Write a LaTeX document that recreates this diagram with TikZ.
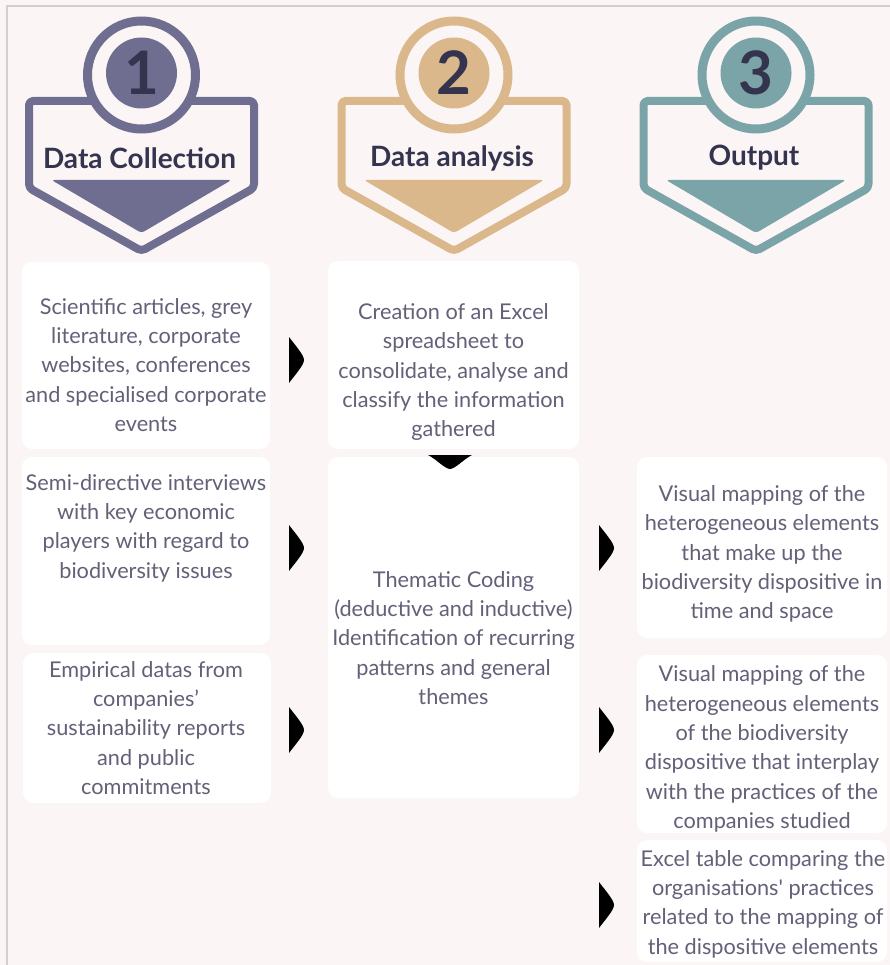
\documentclass[tikz,border=0pt]{standalone}
\usepackage{fontspec}
\setmainfont{Lato}
\definecolor{bgc}{RGB}{251,245,245}
\definecolor{bordc}{RGB}{208,208,208}
\definecolor{purp}{RGB}{111,110,145}
\definecolor{gold}{RGB}{218,184,139}
\definecolor{teal}{RGB}{123,164,169}
\definecolor{darkc}{RGB}{52,52,79}
\definecolor{bodyc}{RGB}{98,97,120}
\tikzset{
  card/.style={fill=white, rounded corners=10, inner sep=0, draw=none},
  bodytext/.style={align=center, text=bodyc, font=\fontsize{21.7}{29.4}\selectfont, inner sep=0},
  hdrtext/.style={text=darkc, font=\bfseries\fontsize{28}{30}\selectfont, inner sep=0},
  numtext/.style={text=darkc, font=\bfseries\fontsize{60}{60}\selectfont, inner sep=0},
}
\newcommand\hdr[5]{%
  \draw[#3, line width=8, rounded corners=4, line join=round]
    (#2-112.5,101) -- (#2+112.5,101) -- (#2+112.5,188) -- (#2,251) -- (#2-112.5,188) -- cycle;
  \fill[#3, rounded corners=3] (#2-90,180) -- (#2+90,180) -- (#2,233) -- cycle;
  \draw[#3, line width=9, fill=bgc] (#2,75) circle[radius=54];
  \fill[#3] (#2,73) circle[radius=35.5];
  \node[numtext] (#1num) at (#2,73) {#4};
  \node[hdrtext] (#1lab) at (#2-2,158) {#5};
}
\newcommand\chevR[2]{%
  \fill[black] (#1,#2-23) .. controls (#1+6,#2-15) and (#1+15,#2-5) .. (#1+15,#2)
    .. controls (#1+15,#2+5) and (#1+6,#2+15) .. (#1,#2+23) -- cycle;}
\newcommand\chevD[2]{%
  \fill[black] (#1-22,#2) .. controls (#1-14,#2+4) and (#1-5,#2+14) .. (#1,#2+14)
    .. controls (#1+5,#2+14) and (#1+14,#2+4) .. (#1+22,#2) -- cycle;}
\begin{document}
\begin{tikzpicture}[x=1pt,y=-1pt]
\useasboundingbox (0,0) rectangle (890,965);
\fill[bgc] (0,0) rectangle (890,965);
\draw[bordc, line width=1.5] (7,965) -- (7,6) -- (890,6);

\hdr{h1}{141.5}{purp}{1}{Data Collection}
\hdr{h2}{454}{gold}{2}{Data analysis}
\hdr{h3}{756}{teal}{3}{Output}

% cards
\node[card, minimum width=248, minimum height=187] (a1) at (146,355.5) {};
\node[card, minimum width=248, minimum height=188] (a2) at (146,551) {};
\node[card, minimum width=248, minimum height=150] (a3) at (147,728) {};
\node[card, minimum width=251, minimum height=188] (b1) at (453.5,355) {};
\node[card, minimum width=251, minimum height=341] (b2) at (453.5,627.5) {};
\node[card, minimum width=250, minimum height=181] (c1) at (762,547.5) {};
\node[card, minimum width=250, minimum height=178] (c2) at (762,744) {};
\node[card, minimum width=250, minimum height=122] (c3) at (762,901) {};

% texts
\node[bodytext] (ta1) at (146,365) {Scientific articles, grey\\literature, corporate\\websites, conferences\\and specialised corporate\\events};
\node[bodytext] (ta2) at (146,528) {Semi-directive interviews\\with key economic\\players with regard to\\biodiversity issues};
\node[bodytext] (ta3) at (146,728) {Empirical datas from\\companies’\\sustainability reports\\and public\\commitments};
\node[bodytext] (tb1) at (453.5,372) {Creation of an Excel\\spreadsheet to\\consolidate, analyse and\\classify the information\\gathered};
\node[bodytext] (tb2) at (453.5,638) {Thematic Coding\\(deductive and inductive)\\Identification of recurring\\patterns and general\\themes};
\node[bodytext] (tc1) at (762,554) {Visual mapping of the\\heterogeneous elements\\that make up the\\biodiversity dispositive in\\time and space};
\node[bodytext] (tc2) at (762,749) {Visual mapping of the\\heterogeneous elements\\of the biodiversity\\dispositive that interplay\\with the practices of the\\companies studied};
\node[bodytext] (tc3) at (763,904) {Excel table comparing the\\organisations\textquotesingle{} practices\\related to the mapping of\\the dispositive elements};

% chevrons
\chevR{289}{360}
\chevR{289}{548}
\chevR{289}{730}
\chevR{599}{548}
\chevR{599}{730}
\chevR{599}{905}
\chevD{450}{455}
\end{tikzpicture}
\end{document}
